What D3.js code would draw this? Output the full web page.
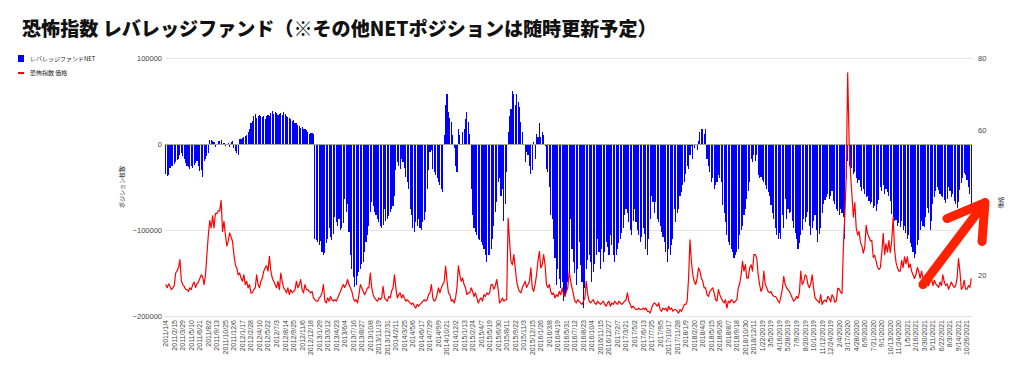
<!DOCTYPE html>
<html>
<head>
<meta charset="utf-8">
<script src="https://cdn.jsdelivr.net/npm/d3@7"></script>
<style>
  html, body { margin: 0; padding: 0; background: #fff; }
  svg { display: block; }
</style>
</head>
<body>
<svg id="chart" width="1024" height="373"></svg>
<script>
// Leveraged funds NET position in VIX futures, thousands of contracts, one value per week from 2011/1/4
const netK = [
  -35, -37, -36, -28, -26, -25, -23, -21, -19, -18,
  -13, -11, -14, -18, -22, -25, -27, -29, -26, -28,
  -24, -22, -20, -25, -31, -30, -38, -20, -17, -14,
  -10, 5, 5, 3, 2, -3, -1, 3, 4, 5,
  -1, 1, -2, -1, 1, -3, 2, 3, -5, -8,
  -10, -13, 6, 6, 7, 8, 9, 11, 14, 18,
  24, 27, 33, 35, 30, 33, 34, 32, 31, 33,
  29, 32, 34, 33, 36, 38, 35, 37, 36, 34,
  35, 36, 34, 37, 35, 33, 31, 30, 29, 27,
  28, 25, 24, 22, 21, 19, 20, 18, 17, 16,
  14, 12, 13, 13, 12, -110, -112, -114, -118, -113,
  -125, -129, -127, -115, -110, -98, -108, -112, -105, -85,
  -91, -95, -87, -100, -98, -92, -64, -79, -70, -102,
  -129, -145, -155, -166, -164, -153, -149, -145, -140, -137,
  -126, -114, -106, -95, -79, -67, -72, -79, -83, -87,
  -91, -95, -98, -94, -75, -89, -87, -84, -79, -75,
  -72, -60, -30, -21, -25, -29, -17, -21, -28, -38,
  -44, -52, -75, -83, -98, -102, -91, -95, -87, -98,
  -100, -91, -88, -79, -52, -30, -9, -7, -29, -33,
  -36, -40, -44, -48, -52, -56, 10, 45, 58, 37,
  30, 26, 10, -5, -25, -33, 18, 10, 0, 14,
  18, 29, 37, 26, 12, -52, -83, -98, -102, -106,
  -110, -112, -114, -118, -122, -129, -137, -129, -129, -122,
  -110, -95, -79, -67, -44, -40, -60, -52, -89, -70,
  -33, 14, 33, 41, 62, 58, 45, 58, 49, 43,
  26, 14, 0, -21, -9, -13, -25, -35, -30, 2,
  -17, 12, 8, 24, 8, 14, 10, -2, -29, -33,
  -50, -83, -87, -110, -133, -164, -145, -157, -168, -160,
  -182, -176, -170, -160, -150, -87, -122, -137, -150, -164,
  -145, -114, -141, -160, -191, -168, -145, -135, -129, -137,
  -160, -149, -140, -129, -110, -125, -145, -122, -137, -126,
  -114, -120, -129, -106, -118, -129, -137, -129, -122, -115,
  -110, -104, -98, -83, -75, -80, -91, -100, -106, -90,
  -75, -91, -100, -106, -114, -108, -98, -105, -122, -129,
  -110, -87, -60, -67, -80, -67, -87, -91, -95, -102,
  -108, -114, -126, -137, -122, -129, -118, -110, -75, -91,
  -80, -75, -60, -56, -48, -44, -35, -25, -29, -13,
  -2, -17, -5, 0, -7, 4, 14, 18, 18, 12,
  18, -17, -25, -33, -44, -40, -52, -48, -44, -36,
  -40, -44, -71, -80, -91, -106, -114, -118, -122, -125,
  -133, -129, -125, -122, -106, -100, -95, -83, -75, -64,
  -55, -44, -17, -21, -13, -20, -13, -36, -40, -38,
  -42, -44, -48, -52, -56, -60, -71, -80, -87, -98,
  -106, -110, -104, -110, -83, -98, -64, -87, -75, -80,
  -79, -90, -98, -104, -110, -122, -115, -106, -100, -87,
  -91, -85, -79, -95, -106, -98, -90, -83, -100, -114,
  -105, -98, -80, -70, -65, -62, -58, -64, -60, -55,
  -66, -70, -75, -78, -82, -76, -80, -85, -110, -40,
  -20, -25, -30, -28, -35, -32, -40, -45, -42, -50,
  -55, -52, -58, -62, -60, -66, -70, -68, -74, -72,
  -78, -70, -65, -50, -55, -48, -58, -52, -56, -60,
  -66, -81, -85, -90, -88, -95, -92, -97, -90, -100,
  -95, -104, -110, -106, -115, -120, -125, -132, -128, -118,
  -112, -100, -89, -95, -97, -85, -74, -80, -100, -90,
  -70, -62, -55, -50, -54, -58, -60, -62, -65, -69,
  -64, -50, -55, -62, -58, -66, -70, -74, -68, -54,
  -45, -39, -34, -36, -42, -50, -58, -71
];

// VIX (恐怖指数) price, same weeks
const vixPrice = [
  17.3, 16.4, 17.5, 16.8, 15.9, 16.4, 17.0, 20.5, 21.0, 22.0,
  24.2, 18.2, 17.3, 16.8, 16.0, 15.9, 15.4, 16.4, 15.9, 17.3,
  18.0, 16.5, 17.5, 18.0, 19.0, 20.0, 19.5, 17.3, 20.0, 25.6,
  31.0, 35.0, 33.0, 36.3, 33.0, 37.0, 36.9, 37.7, 37.7, 40.6,
  32.0, 34.8, 31.1, 28.0, 29.3, 31.6, 30.5, 29.3, 25.6, 22.8,
  21.9, 20.0, 20.5, 19.1, 18.2, 20.0, 17.3, 18.2, 16.4, 17.3,
  15.0, 15.0, 15.9, 16.4, 20.0, 17.3, 16.4, 18.2, 19.1, 21.0,
  21.9, 22.5, 21.0, 25.1, 21.0, 19.1, 18.2, 17.3, 16.4, 18.2,
  15.9, 20.5, 18.2, 16.4, 15.9, 15.0, 16.4, 14.5, 15.9, 15.0,
  15.4, 15.9, 18.2, 16.4, 17.3, 18.7, 15.9, 15.0, 17.3, 15.9,
  15.9, 15.4, 15.0, 15.4, 13.6, 13.1, 12.7, 12.7, 13.6, 14.0,
  15.0, 17.3, 12.7, 12.2, 13.6, 12.7, 14.0, 13.1, 12.7, 13.1,
  12.7, 13.6, 14.5, 15.4, 16.5, 17.3, 16.5, 17.3, 18.7, 17.3,
  16.4, 15.4, 13.6, 12.7, 13.1, 12.2, 14.5, 17.3, 16.4, 15.4,
  14.5, 15.4, 16.4, 16.4, 20.5, 16.4, 14.5, 13.6, 13.1, 12.7,
  13.6, 13.1, 13.6, 16.8, 13.6, 13.1, 12.7, 14.0, 13.6, 15.5,
  16.4, 20.0, 16.4, 13.6, 14.5, 15.0, 13.6, 14.5, 13.6, 12.7,
  13.1, 12.7, 12.2, 11.8, 12.2, 11.3, 10.8, 11.8, 11.3, 11.8,
  12.2, 12.7, 13.1, 12.7, 13.1, 14.5, 15.0, 17.3, 13.6, 12.7,
  13.1, 14.5, 16.4, 15.0, 16.4, 17.3, 18.0, 22.4, 18.2, 15.0,
  14.5, 12.7, 13.1, 12.2, 13.6, 16.4, 22.5, 20.0, 18.2, 19.1,
  17.3, 16.4, 14.5, 15.0, 15.0, 16.4, 15.4, 14.0, 15.0, 13.6,
  12.2, 13.1, 13.6, 12.7, 14.5, 14.0, 15.0, 14.5, 15.0, 17.3,
  17.3, 16.0, 17.0, 18.7, 15.9, 12.2, 12.7, 13.6, 12.7, 13.1,
  13.1, 35.7, 29.3, 23.7, 22.8, 25.6, 21.9, 18.2, 16.4, 15.4,
  15.0, 16.4, 17.3, 18.2, 16.5, 17.3, 18.2, 21.9, 16.4, 15.4,
  17.3, 20.0, 23.7, 26.5, 21.9, 22.8, 25.6, 22.8, 17.3, 16.4,
  17.3, 15.4, 14.5, 15.0, 13.6, 14.5, 14.0, 15.4, 14.5, 16.4,
  14.5, 14.0, 15.4, 16.4, 21.0, 18.2, 16.4, 14.5, 12.7, 12.2,
  13.1, 12.7, 12.2, 11.8, 12.7, 13.5, 18.2, 14.5, 12.7, 12.2,
  12.7, 13.1, 12.2, 11.8, 12.7, 12.2, 11.8, 12.2, 12.7, 11.8,
  11.3, 12.2, 12.7, 11.3, 12.2, 11.8, 12.7, 12.2, 11.8, 12.7,
  12.2, 11.8, 12.2, 12.7, 13.1, 15.0, 12.7, 11.8, 10.8, 11.3,
  10.8, 10.4, 10.4, 10.8, 10.4, 10.4, 10.8, 10.4, 10.8, 9.9,
  9.9, 9.4, 10.8, 11.8, 12.2, 11.8, 11.3, 12.2, 10.4, 9.9,
  10.8, 10.4, 10.8, 9.9, 11.3, 10.4, 10.8, 9.9, 10.4, 10.4,
  9.9, 9.4, 10.4, 9.9, 10.8, 11.8, 11.8, 12.7, 19.0, 29.7,
  23.7, 20.0, 18.2, 17.3, 19.0, 21.9, 21.0, 19.1, 18.2, 16.4,
  16.4, 14.5, 14.0, 15.4, 15.9, 16.4, 15.0, 13.1, 12.7, 15.9,
  14.5, 13.6, 12.7, 12.2, 13.1, 10.8, 12.7, 12.2, 13.1, 12.7,
  12.2, 12.7, 13.1, 16.4, 17.6, 20.0, 23.7, 21.0, 22.8, 19.1,
  19.1, 21.9, 22.8, 21.0, 25.6, 25.6, 24.6, 20.0, 17.3, 15.4,
  16.4, 21.0, 17.3, 16.4, 15.4, 15.0, 15.4, 14.5, 14.0, 14.0,
  13.6, 12.7, 12.2, 14.0, 16.0, 19.6, 17.3, 16.4, 15.9, 15.4,
  14.5, 13.6, 12.7, 13.1, 14.0, 13.5, 15.0, 21.0, 17.3, 18.0,
  20.0, 19.6, 17.3, 16.4, 17.5, 20.0, 16.4, 13.6, 13.1, 12.7,
  12.2, 14.5, 11.8, 12.7, 13.0, 12.5, 14.0, 13.5, 12.5, 14.5,
  13.8, 12.4, 12.8, 16.3, 16.1, 15.2, 14.8, 27.9, 36.8, 47.3,
  75.9, 57.0, 48.0, 42.0, 36.0, 40.0, 33.0, 31.0, 32.0, 29.0,
  28.0, 26.0, 27.6, 33.7, 31.4, 30.4, 29.4, 29.5, 24.8, 25.4,
  23.8, 22.1, 21.5, 22.0, 26.1, 31.5, 25.6, 28.6, 26.3, 29.5,
  26.1, 29.4, 36.0, 27.0, 23.5, 22.0, 21.0, 21.0, 24.0, 22.0,
  25.0, 23.0, 25.0, 22.0, 23.0, 21.0, 20.0, 19.0, 20.0, 22.0,
  21.0, 19.0, 21.0, 19.0, 18.0, 19.0, 17.5, 17.0, 18.0, 19.0,
  17.0, 18.5, 17.5, 17.0, 16.5, 18.0, 17.0, 20.0, 18.0, 17.0,
  17.5, 16.0, 17.0, 18.0, 17.0, 16.5, 17.0, 19.0, 24.5, 21.0,
  16.0, 16.5, 18.5, 16.0, 16.0, 17.0, 16.5, 19.0
];

// one label every 6th week
const tickLabels = [
  "2011/1/4", "2011/2/15", "2011/3/29", "2011/5/10", "2011/6/21", "2011/8/2", "2011/9/13", "2011/10/25",
  "2011/12/6", "2012/1/17", "2012/2/28", "2012/4/10", "2012/5/22", "2012/7/3", "2012/8/14", "2012/9/25",
  "2012/11/6", "2012/12/18", "2013/1/29", "2013/3/12", "2013/4/23", "2013/6/4", "2013/7/16", "2013/8/27",
  "2013/10/8", "2013/11/19", "2013/12/31", "2014/2/11", "2014/3/25", "2014/5/6", "2014/6/17", "2014/7/29",
  "2014/9/9", "2014/10/21", "2014/12/2", "2015/1/13", "2015/2/24", "2015/4/7", "2015/5/19", "2015/6/30",
  "2015/8/11", "2015/9/22", "2015/11/3", "2015/12/15", "2016/1/26", "2016/3/8", "2016/4/19", "2016/5/31",
  "2016/7/12", "2016/8/23", "2016/10/4", "2016/11/15", "2016/12/27", "2017/2/7", "2017/3/21", "2017/5/2",
  "2017/6/13", "2017/7/25", "2017/9/5", "2017/10/17", "2017/11/28", "2018/1/9", "2018/2/20", "2018/4/3",
  "2018/5/15", "2018/6/26", "2018/8/7", "2018/9/18", "2018/10/30", "2018/12/11", "1/22/2019", "3/5/2019",
  "4/16/2019", "5/28/2019", "7/9/2019", "8/20/2019", "10/1/2019", "11/12/2019", "12/24/2019", "2/4/2020",
  "3/17/2020", "4/28/2020", "6/9/2020", "7/21/2020", "9/1/2020", "10/13/2020", "11/24/2020", "1/5/2021",
  "2/16/2021", "3/30/2021", "5/11/2021", "6/22/2021", "8/3/2021", "9/14/2021", "10/26/2021"
];

const netTicks = [-200000, -100000, 0, 100000];
const priceTicks = [20, 40, 60, 80];

const titleText = "恐怖指数 レバレッジファンド（※その他NETポジションは随時更新予定）";

(() => {
  const width = 1024;
  const height = 373;
  const margin = { top: 58, right: 52, bottom: 57, left: 165 };
  const innerW = width - margin.left - margin.right;
  const innerH = height - margin.top - margin.bottom;
  const latin = "'Liberation Sans', Arial, 'Noto Sans CJK JP', sans-serif";
  const jp = "'Noto Sans CJK JP', 'Liberation Sans', sans-serif";
  const blue = "#0000ff";
  const red = "#ff0000";
  const labelColor = "#444";

  const svg = d3.select("#chart");

  // title, fitted to the width it takes in the original
  const title = svg.append("text")
    .attr("x", 22)
    .attr("y", 36)
    .attr("font-family", jp)
    .attr("font-weight", 900)
    .attr("font-size", 20)
    .attr("fill", "#111")
    .text(titleText);
  const tw = title.node().getComputedTextLength();
  title.attr("font-size", 20 * 635 / tw);

  // legend
  const legend = svg.append("g").attr("font-family", jp).attr("font-size", 6).attr("fill", "#222");
  legend.append("rect").attr("x", 18).attr("y", 55).attr("width", 6).attr("height", 7).attr("fill", blue);
  legend.append("text").attr("x", 30).attr("y", 58.5).attr("dy", "0.35em").text("レバレッジファンドNET");
  legend.append("rect").attr("x", 18).attr("y", 72).attr("width", 6).attr("height", 2).attr("fill", red);
  legend.append("text").attr("x", 30).attr("y", 73).attr("dy", "0.35em").text("恐怖指数 価格");

  const g = svg.append("g").attr("transform", `translate(${margin.left},${margin.top})`);

  const first = new Date(2011, 0, 4);
  const weeks = netK.map((_, i) => d3.timeDay.offset(first, i * 7));

  const x = d3.scaleBand().domain(weeks).range([0, innerW]).padding(0);
  const bw = x.bandwidth();
  const y = d3.scaleLinear().domain([-200000, 100000]).range([innerH, 0]);
  const y2 = d3.scaleLinear().domain([8.6, 80]).range([innerH, 0]);

  // gridlines
  g.append("g")
    .selectAll("line")
    .data(netTicks.filter((t) => t !== 0))
    .join("line")
    .attr("x1", 0)
    .attr("x2", innerW)
    .attr("y1", (d) => Math.round(y(d)) + 0.5)
    .attr("y2", (d) => Math.round(y(d)) + 0.5)
    .attr("stroke", "#e4e4e4");

  // NET bars
  const barW = bw * 0.78;
  g.append("g")
    .attr("shape-rendering", "crispEdges")
    .selectAll("rect")
    .data(netK)
    .join("rect")
    .attr("x", (d, i) => x(weeks[i]) + (bw - barW) / 2)
    .attr("y", (d) => y(Math.max(0, d * 1000)))
    .attr("width", barW)
    .attr("height", (d) => Math.abs(y(d * 1000) - y(0)))
    .attr("fill", blue);

  // zero baseline
  g.append("line")
    .attr("x1", 0)
    .attr("x2", innerW)
    .attr("y1", Math.round(y(0)) + 0.5)
    .attr("y2", Math.round(y(0)) + 0.5)
    .attr("stroke", "#a8a8a8");

  // VIX line
  const line = d3.line()
    .x((d, i) => x(weeks[i]) + bw / 2)
    .y((d) => y2(d));

  g.append("path")
    .datum(vixPrice)
    .attr("fill", "none")
    .attr("stroke", red)
    .attr("stroke-width", 1.2)
    .attr("stroke-linejoin", "round")
    .attr("d", line);

  // left axis
  const leftAxis = g.append("g")
    .call(d3.axisLeft(y).tickValues(netTicks).tickSize(0).tickPadding(3).tickFormat(d3.format("d")));
  leftAxis.select(".domain").remove();
  leftAxis.selectAll("text")
    .attr("font-family", latin)
    .attr("font-size", 7.5)
    .attr("fill", labelColor);

  // right axis
  const rightAxis = g.append("g")
    .attr("transform", `translate(${innerW},0)`)
    .call(d3.axisRight(y2).tickValues(priceTicks).tickSize(0).tickPadding(6));
  rightAxis.select(".domain").remove();
  rightAxis.selectAll("text")
    .attr("font-family", latin)
    .attr("font-size", 7.5)
    .attr("fill", labelColor);

  // bottom axis, every 6th week
  const labelOf = new Map(weeks.filter((d, i) => i % 6 === 0).map((d, k) => [+d, tickLabels[k]]));
  const bottomAxis = g.append("g")
    .attr("transform", `translate(0,${innerH})`)
    .call(d3.axisBottom(x).tickValues(weeks.filter((d, i) => i % 6 === 0)).tickSize(0).tickFormat((d) => labelOf.get(+d) || ""));
  bottomAxis.select(".domain").remove();
  bottomAxis.selectAll("text")
    .attr("font-family", latin)
    .attr("font-size", 7)
    .attr("fill", labelColor)
    .attr("text-anchor", "end")
    .attr("transform", "rotate(-90)")
    .attr("x", -4)
    .attr("y", 0)
    .attr("dy", "0.35em");

  // axis titles
  g.append("text")
    .attr("transform", `translate(-43,${innerH / 2}) rotate(-90)`)
    .attr("text-anchor", "middle")
    .attr("dy", "0.35em")
    .attr("font-family", jp)
    .attr("font-size", 6)
    .attr("fill", "#222")
    .text("ポジション枚数");

  g.append("text")
    .attr("transform", `translate(${innerW + 29},${y2(40)}) rotate(-90)`)
    .attr("text-anchor", "middle")
    .attr("dy", "0.35em")
    .attr("font-family", jp)
    .attr("font-size", 6)
    .attr("fill", "#222")
    .text("価格");

  // red arrow annotation pointing at the latest values
  const tipX = innerW + 13;
  const tipY = y2(40);
  const arrow = d3.path();
  arrow.moveTo(tipX - 62, tipY + 82);
  arrow.lineTo(tipX, tipY);
  arrow.moveTo(tipX - 38, tipY + 16);
  arrow.lineTo(tipX, tipY);
  arrow.lineTo(tipX - 3, tipY + 39);
  g.append("path")
    .attr("d", arrow.toString())
    .attr("fill", "none")
    .attr("stroke", "#ff2200")
    .attr("stroke-width", 9)
    .attr("stroke-linecap", "round")
    .attr("stroke-linejoin", "round");
})();
</script>
</body>
</html>
